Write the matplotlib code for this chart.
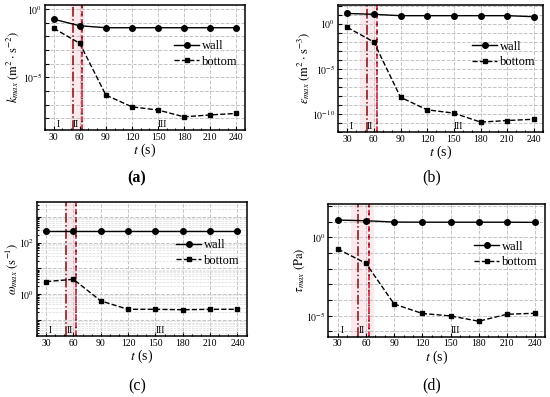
import matplotlib
matplotlib.use('Agg')
import matplotlib.pyplot as plt
import matplotlib.ticker as mticker
import matplotlib.transforms as mtrans
import numpy as np

plt.rcParams['font.family'] = ['Liberation Serif', 'DejaVu Serif']
plt.rcParams['mathtext.fontset'] = 'stix'

# data
times = [30, 60, 90, 120, 150, 180, 210, 240]

k_wall = [0.18, 0.06, 0.043, 0.043, 0.043, 0.043, 0.043, 0.043]
k_bottom = [0.039, 0.0031, 5.1e-7, 7e-8, 4.1e-8, 1.3e-8, 1.8e-8, 2.3e-8]

eps_wall = [15, 12, 8.5, 8.5, 8.5, 8.5, 8.5, 6.5]
eps_bottom = [0.43, 0.01, 7e-9, 2.8e-10, 1.2e-10, 1.2e-11, 1.8e-11, 2.5e-11]

omega_wall = [280, 280, 280, 280, 280, 280, 280, 280]
omega_bottom = [3.1, 3.8, 0.55, 0.26, 0.26, 0.25, 0.26, 0.26]

tau_wall = [12.6, 11.4, 9.4, 9.2, 9.2, 9.2, 9.2, 9.0]
tau_bottom = [0.18, 0.022, 5.6e-5, 1.4e-5, 9.8e-6, 4.5e-6, 1.25e-5, 1.45e-5]

stage_labels = ['I', 'II', 'III']
stage_x = [35, 56, 155]
stage_lines = [52, 63]

panels = [
    dict(pos=[0.0818, 0.6725, 0.3636, 0.315], wall=k_wall, bottom=k_bottom,
         ylim=(-8.85, 0.3), shown=[0, -5], minor=False, labx=-0.118,
         ylabel=r'$k_{max}\ \left(\mathrm{m^2\cdot s^{-2}}\right)$',
         tag='(a)', tagxy=(137, 178), weight='bold', span=(49, 66)),
    dict(pos=[0.615, 0.668, 0.372, 0.319], wall=eps_wall, bottom=eps_bottom,
         ylim=(-12, 2.1), shown=[0, -5, -10], minor=False, labx=-0.13,
         ylabel=r'$\varepsilon_{max}\ \left(\mathrm{m^2\cdot s^{-3}}\right)$',
         tag='(b)', tagxy=(432, 177), weight='normal', span=(45, 64)),
    dict(pos=[0.0673, 0.1537, 0.381, 0.3375], wall=omega_wall, bottom=omega_bottom,
         ylim=(-1.62, 3.58), shown=[0, 2], minor=True, labx=-0.08,
         ylabel=r'$\omega_{max}\ \left(\mathrm{s^{-1}}\right)$',
         tag='(c)', tagxy=(137, 386), weight='normal', span=(51, 63)),
    dict(pos=[0.597, 0.152, 0.393, 0.334], wall=tau_wall, bottom=tau_bottom,
         ylim=(-6.33, 2.12), shown=[0, -5], minor=False, labx=-0.1,
         ylabel=r'$\tau_{max}\ \mathrm{(Pa)}$',
         tag='(d)', tagxy=(432, 385), weight='normal', span=(44, 69)),
]

W, H = 550, 397
fig = plt.figure(figsize=(W / 100, H / 100), dpi=100)

for p in panels:
    ax = fig.add_axes(p['pos'])
    ax.set_yscale('log')
    ax.set_xlim(20, 250)
    lo, hi = p['ylim']
    ax.set_ylim(10 ** lo, 10 ** hi)

    # stage band and boundaries
    ax.axvspan(*p['span'], color='#fbdbe4', alpha=0.6, lw=0, zorder=0)
    ax.axvline(stage_lines[0], color='#7a1010', ls='-.', lw=1.1, zorder=2)
    ax.axvline(stage_lines[1], color='#c8102e', ls='--', lw=1.1, zorder=2)
    ax.axvline(stage_lines[1], color='#5a0a0a', ls=(0, (1, 4)), lw=1.1, zorder=2)

    ax.plot(times, p['wall'], '-o', color='black', lw=1.0, ms=4, label='wall', zorder=3)
    ax.plot(times, p['bottom'], '--s', color='black', lw=1.0, ms=3.5,
            label='bottom', zorder=3)

    # ticks
    ax.set_xticks(times)
    ax.xaxis.set_minor_locator(mticker.MultipleLocator(10))
    decades = np.arange(int(np.ceil(lo)), int(np.floor(hi)) + 1)
    ax.set_yticks([10.0 ** d for d in decades])
    ax.set_yticklabels([r'$10^{%d}$' % d if d in p['shown'] else '' for d in decades])
    if p['minor']:
        ax.yaxis.set_minor_locator(mticker.LogLocator(base=10, subs=np.arange(2, 10), numticks=20))
        ax.yaxis.set_minor_formatter(mticker.NullFormatter())
        ax.grid(True, which='minor', axis='y', color='#dcdcdc', ls='--', lw=0.5)
    else:
        ax.yaxis.set_minor_locator(mticker.NullLocator())
    ax.tick_params(which='both', direction='in', labelsize=7, width=0.8)
    ax.tick_params(which='major', length=3, pad=2)
    ax.tick_params(which='minor', length=1.5)
    ax.grid(True, which='major', color='#c4c4c4', ls='--', lw=0.7)
    ax.set_axisbelow(True)
    for s in ax.spines.values():
        s.set_linewidth(1.1)

    trans = mtrans.blended_transform_factory(ax.transData, ax.transAxes)
    for lab, x in zip(stage_labels, stage_x):
        ax.text(x, 0.01, lab, transform=trans, ha='center', va='bottom', fontsize=7)

    ax.set_xlabel(r'$t$ (s)', fontsize=10, labelpad=0)
    ax.set_ylabel(p['ylabel'], fontsize=9)
    ax.yaxis.set_label_coords(p['labx'], 0.5)
    ax.legend(loc='upper right', bbox_to_anchor=(1.0, 0.78), frameon=False,
              fontsize=9, handlelength=2.0, handletextpad=0.2, borderaxespad=0.2,
              labelspacing=0.3)

    tx, ty = p['tagxy']
    fig.text(tx / W, 1 - ty / H, p['tag'], ha='center', va='center',
             fontsize=11.5, fontweight=p['weight'])

fig.savefig('out.png', dpi=100)
